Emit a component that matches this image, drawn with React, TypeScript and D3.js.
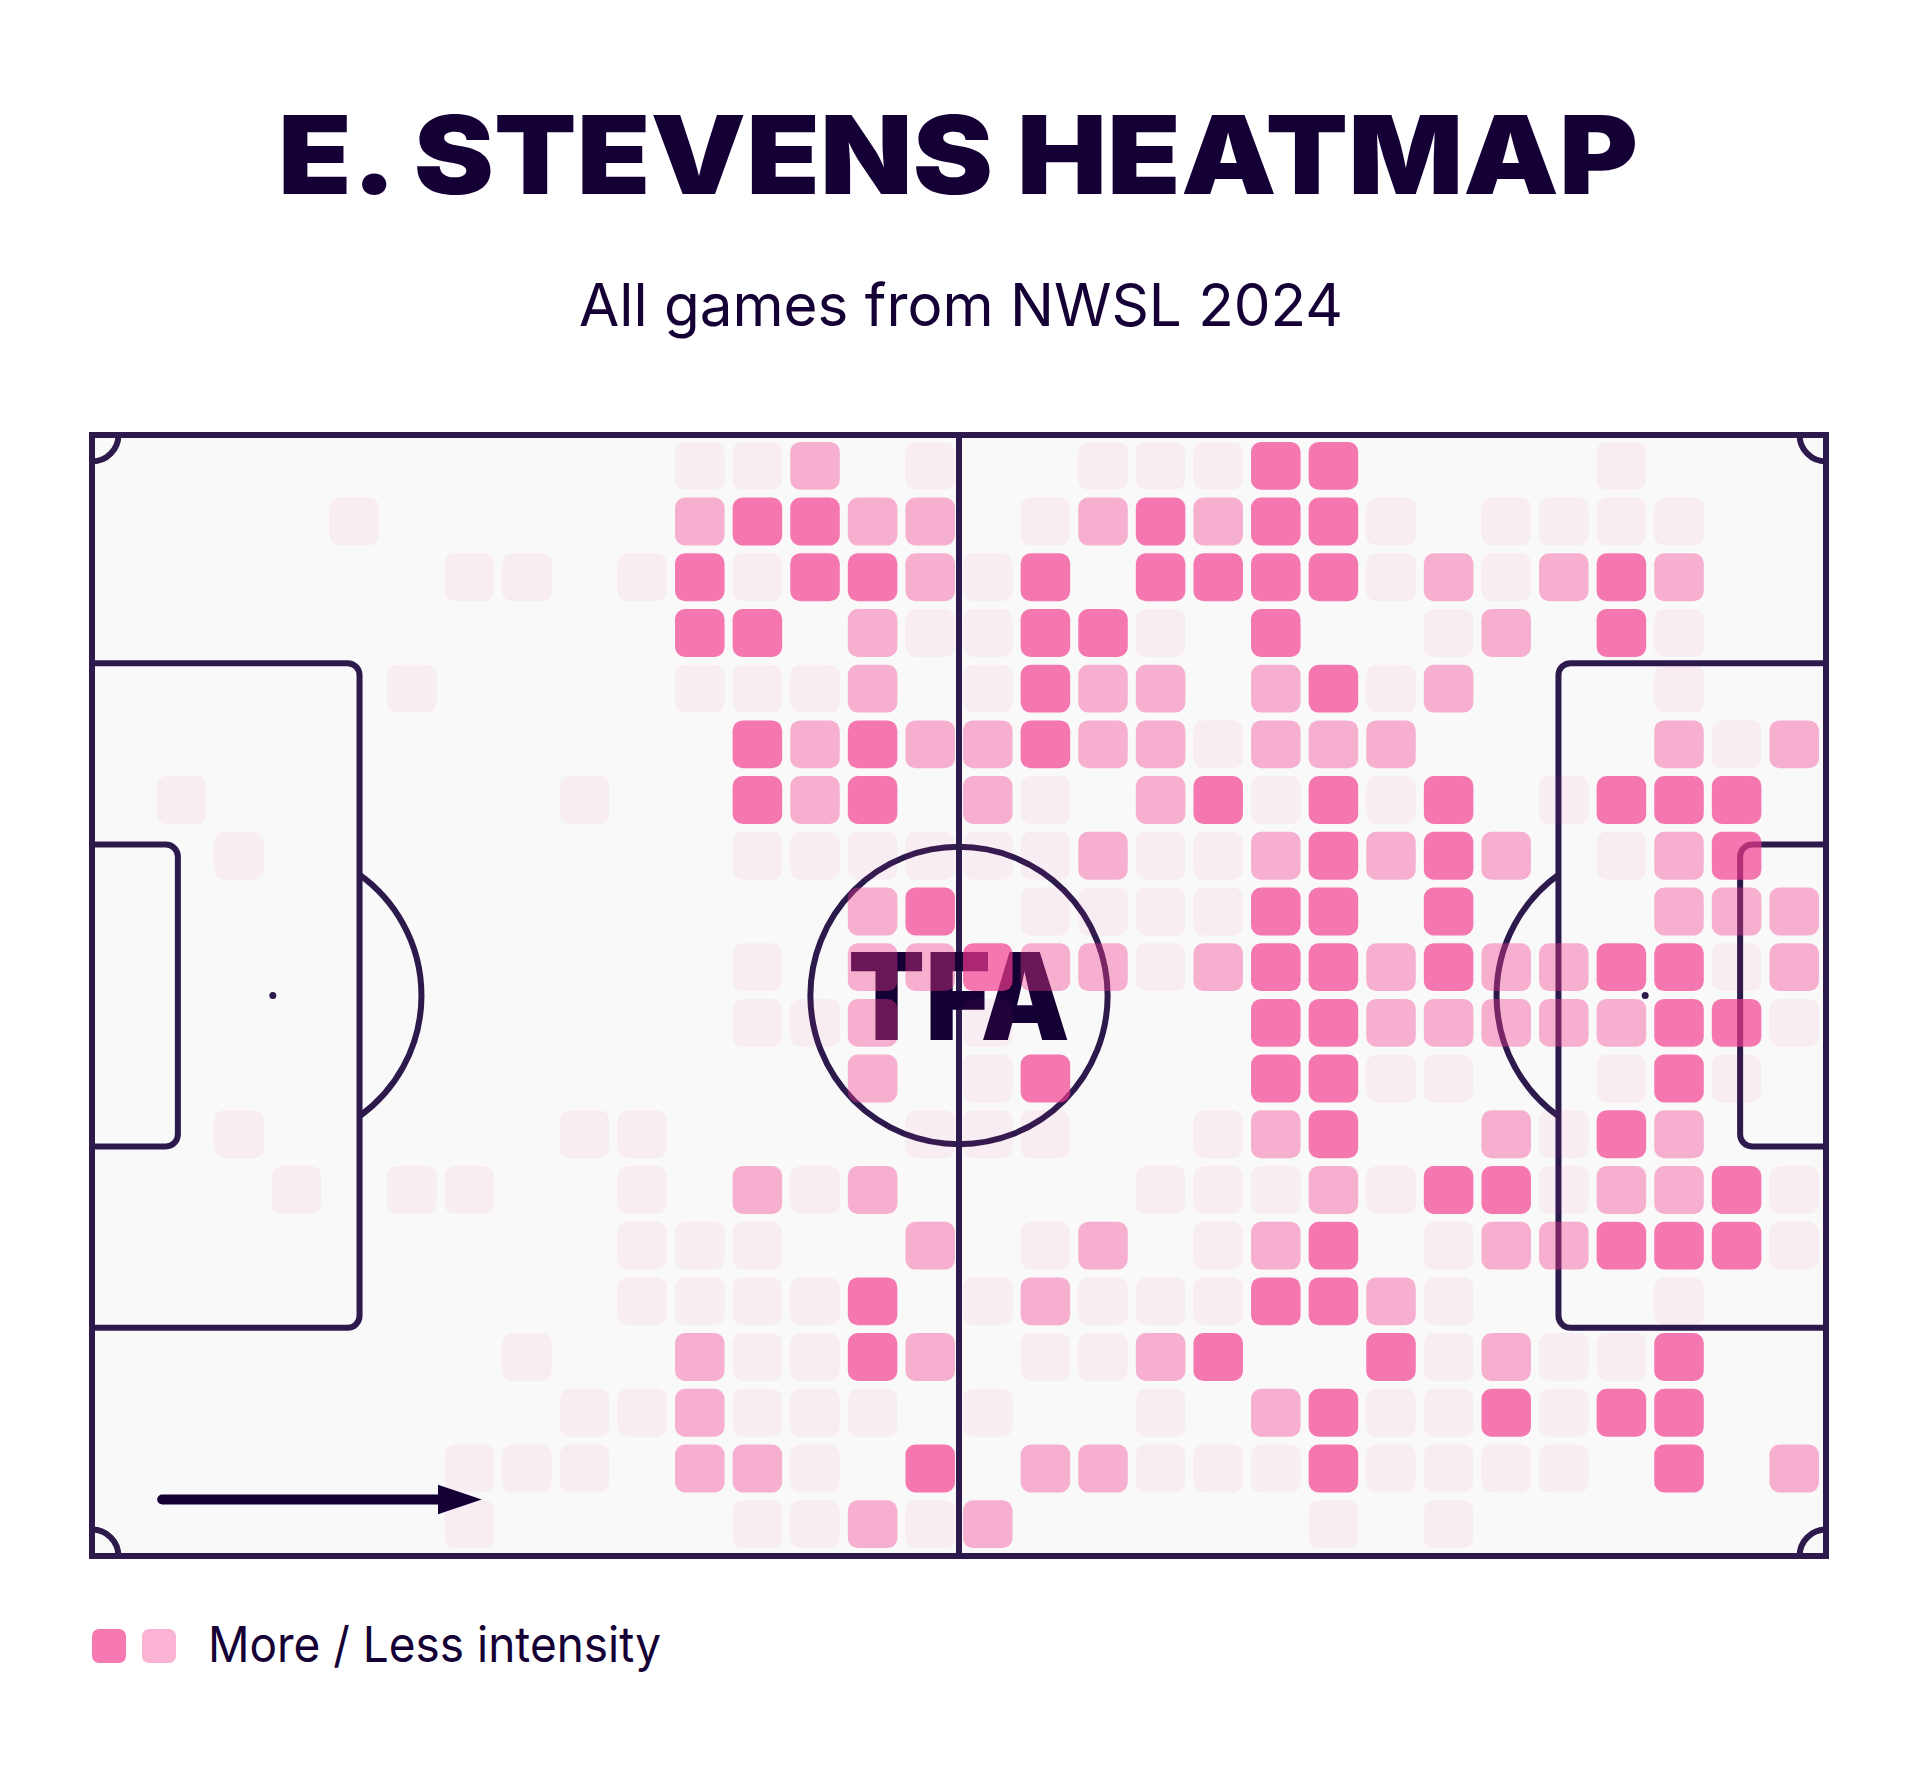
import React from "react";
import * as d3 from "d3";

// ---- data -------------------------------------------------------------
const TITLE = "E. STEVENS HEATMAP";
const SUBTITLE = "All games from NWSL 2024";
const LEGEND_LABEL = "More / Less intensity";
const LOGO_TEXT = "TFA";

const GRID_COLS = 30;
const GRID_ROWS = 20;

// intensity per cell: '.' none, '1' light, '2' medium, '3' strong
// each row = columns 0-9 + 10-19 + 20-29 (left -> right), rows top -> bottom
const heatRows: string[] = [
  ".........." + "112.1..111" + "33....1...",
  "....1....." + "23322.1232" + "331.1111..",
  "......11.1" + "3133213.33" + "33121232..",
  ".........." + "33.211331." + "3..12.31..",
  ".....1...." + "1112.1322." + "2312...1..",
  ".........." + ".323223221" + "222....212",
  ".1......1." + ".323.21.23" + "1313.1333.",
  "..1......." + ".111111211" + "23232.123.",
  ".........." + "...23.1111" + "33.3...222",
  ".........." + ".1.2232212" + "3323223312",
  ".........." + ".112.1...." + "3322222331",
  ".........." + "...2.13..." + "3311..131.",
  "..1.....11" + "....111..1" + "23..2132..",
  "...1.11..1" + ".212....11" + "1213312231",
  ".........1" + "11..2.12.1" + "23.1223331",
  ".........1" + "1113.12111" + "3321...1..",
  ".......1.." + "21132.1123" + "..312113..",
  "........11" + "2111.1..1." + "23113133..",
  "......111." + "221.3.2211" + "131111.3.2",
  "......1..." + ".11212...." + ".1.1......",
];

const levelOpacity = [0, 0.06, 0.39, 0.68];

// ---- layout constants ---------------------------------------------------
const W = 1920;
const H = 1779;
const PITCH_LEN = 105;
const PITCH_WID = 68;
const INK = "#150035";
const LINE = "#2c1a4d";
const PINK = "rgb(243,58,142)";
const FONT = "Inter, 'Noto Sans', Roboto, sans-serif";

export default function App() {
  const x = d3.scaleLinear().domain([0, PITCH_LEN]).range([92, 1826]);
  const y = d3.scaleLinear().domain([0, PITCH_WID]).range([435, 1556]);
  const px = (m: number) => x(m) - x(0);

  const colBand = d3
    .scaleBand<number>()
    .domain(d3.range(GRID_COLS))
    .range([95, 1823])
    .paddingInner(0.14)
    .paddingOuter(0.07);
  const rowBand = d3
    .scaleBand<number>()
    .domain(d3.range(GRID_ROWS))
    .range([438, 1552])
    .paddingInner(0.14)
    .paddingOuter(0.07);

  const cells = heatRows
    .flatMap((row, ri) =>
      row.split("").map((ch, ci) => ({ ri, ci, level: ch === "." ? 0 : +ch }))
    )
    .filter((c) => c.level > 0 && c.ci < GRID_COLS);

  // pitch geometry
  const boxDepth = 16.2;
  const sixDepth = 5.2;
  const boxTop = (PITCH_WID - 40.32) / 2;
  const boxBot = PITCH_WID - boxTop;
  const sixTop = (PITCH_WID - 18.32) / 2;
  const sixBot = PITCH_WID - sixTop;
  const spot = 10.95;
  const circR = 9.0;
  const cr = 12;

  const boxPath = (depth: number, top: number, bot: number, right: boolean) => {
    const p = d3.path();
    if (!right) {
      const xr = x(depth);
      p.moveTo(x(0), y(top));
      p.lineTo(xr - cr, y(top));
      p.arcTo(xr, y(top), xr, y(top) + cr, cr);
      p.lineTo(xr, y(bot) - cr);
      p.arcTo(xr, y(bot), xr - cr, y(bot), cr);
      p.lineTo(x(0), y(bot));
    } else {
      const xl = x(PITCH_LEN - depth);
      p.moveTo(x(PITCH_LEN), y(top));
      p.lineTo(xl + cr, y(top));
      p.arcTo(xl, y(top), xl, y(top) + cr, cr);
      p.lineTo(xl, y(bot) - cr);
      p.arcTo(xl, y(bot), xl + cr, y(bot), cr);
      p.lineTo(x(PITCH_LEN), y(bot));
    }
    return p.toString();
  };

  const R = px(circR);
  const theta = Math.acos(px(boxDepth - spot) / R);
  const dLeft = (() => {
    const p = d3.path();
    const cx = x(spot), cy = y(PITCH_WID / 2);
    p.moveTo(cx + R * Math.cos(-theta), cy + R * Math.sin(-theta));
    p.arc(cx, cy, R, -theta, theta);
    return p.toString();
  })();
  const dRight = (() => {
    const p = d3.path();
    const cx = x(PITCH_LEN - spot), cy = y(PITCH_WID / 2);
    p.moveTo(cx + R * Math.cos(Math.PI - theta), cy + R * Math.sin(Math.PI - theta));
    p.arc(cx, cy, R, Math.PI - theta, Math.PI + theta);
    return p.toString();
  })();

  const cornerR = px(1.6);
  const corners = [
    { cx: x(0), cy: y(0), a0: 0, a1: Math.PI / 2 },
    { cx: x(PITCH_LEN), cy: y(0), a0: Math.PI / 2, a1: Math.PI },
    { cx: x(PITCH_LEN), cy: y(PITCH_WID), a0: Math.PI, a1: (3 * Math.PI) / 2 },
    { cx: x(0), cy: y(PITCH_WID), a0: (3 * Math.PI) / 2, a1: 2 * Math.PI },
  ].map(({ cx, cy, a0, a1 }) => {
    const p = d3.path();
    p.moveTo(cx + cornerR * Math.cos(a0), cy + cornerR * Math.sin(a0));
    p.arc(cx, cy, cornerR, a0, a1);
    return p.toString();
  });

  // arrow (attack direction)
  const ay = y(64.57);
  const arrowStart = x(4.25);
  const arrowBase = x(20.95);
  const arrowTip = x(23.6);
  const headH = 14.7;

  const lw = 6;

  return (
    <svg
      width={W}
      height={H}
      viewBox={`0 0 ${W} ${H}`}
      style={{ position: "absolute", left: 0, top: 0, background: "#ffffff" }}
    >
      <rect x={0} y={0} width={W} height={H} fill="#ffffff" />
      <text
        x={958}
        y={193.5}
        textAnchor="middle"
        fontFamily={FONT}
        fontWeight={900}
        fontSize={109}
        fill={INK}
        textLength={1360}
        lengthAdjust="spacingAndGlyphs"
      >
        {TITLE}
      </text>
      <text
        x={961}
        y={325.7}
        textAnchor="middle"
        fontFamily={FONT}
        fontWeight={400}
        fontSize={59}
        fill={INK}
        textLength={764}
        lengthAdjust="spacingAndGlyphs"
      >
        {SUBTITLE}
      </text>

      {/* pitch */}
      <rect
        x={x(0)}
        y={y(0)}
        width={x(PITCH_LEN) - x(0)}
        height={y(PITCH_WID) - y(0)}
        fill="#f9f9f9"
        stroke="none"
      />
      <g fill="none" stroke={LINE} strokeWidth={lw}>
        <line x1={x(PITCH_LEN / 2)} x2={x(PITCH_LEN / 2)} y1={y(0)} y2={y(PITCH_WID)} />
        <circle cx={x(PITCH_LEN / 2)} cy={y(PITCH_WID / 2)} r={R} />
        <path d={boxPath(boxDepth, boxTop, boxBot, false)} />
        <path d={boxPath(boxDepth, boxTop, boxBot, true)} />
        <path d={boxPath(sixDepth, sixTop, sixBot, false)} />
        <path d={boxPath(sixDepth, sixTop, sixBot, true)} />
        <path d={dLeft} />
        <path d={dRight} />
        {corners.map((d, i) => (
          <path key={i} d={d} />
        ))}
      </g>
      <g fill={LINE}>
        <circle cx={x(spot)} cy={y(PITCH_WID / 2)} r={3.5} />
        <circle cx={x(PITCH_LEN - spot)} cy={y(PITCH_WID / 2)} r={3.5} />
        <circle cx={x(PITCH_LEN / 2)} cy={y(PITCH_WID / 2)} r={3.5} />
      </g>

      {/* logo under heat cells */}
      <text
        x={959}
        y={1040}
        textAnchor="middle"
        fontFamily={FONT}
        fontWeight={900}
        fontSize={121}
        fill={INK}
        textLength={222}
        lengthAdjust="spacingAndGlyphs"
      >
        {LOGO_TEXT}
      </text>

      {/* heat cells */}
      <g>
        {cells.map((c) => (
          <rect
            key={`${c.ri}-${c.ci}`}
            x={colBand(c.ci)}
            y={rowBand(c.ri)}
            width={colBand.bandwidth()}
            height={rowBand.bandwidth()}
            rx={10}
            ry={10}
            fill={PINK}
            fillOpacity={levelOpacity[c.level]}
          />
        ))}
      </g>

      {/* outer boundary on top */}
      <rect
        x={x(0)}
        y={y(0)}
        width={x(PITCH_LEN) - x(0)}
        height={y(PITCH_WID) - y(0)}
        fill="none"
        stroke={LINE}
        strokeWidth={lw}
      />

      {/* direction arrow */}
      <line
        x1={arrowStart}
        x2={arrowBase + 2}
        y1={ay}
        y2={ay}
        stroke={INK}
        strokeWidth={10}
        strokeLinecap="round"
      />
      <path
        d={`M${arrowBase},${ay - headH}L${arrowTip},${ay}L${arrowBase},${ay + headH}Z`}
        fill={INK}
      />

      {/* legend */}
      <rect x={92} y={1629} width={34} height={34} rx={7} fill={PINK} fillOpacity={levelOpacity[3]} />
      <rect x={142} y={1629} width={34} height={34} rx={7} fill={PINK} fillOpacity={levelOpacity[2]} />
      <text
        x={208}
        y={1662}
        fontFamily={FONT}
        fontWeight={400}
        fontSize={49}
        fill={INK}
        textLength={453}
        lengthAdjust="spacingAndGlyphs"
      >
        {LEGEND_LABEL}
      </text>
    </svg>
  );
}
